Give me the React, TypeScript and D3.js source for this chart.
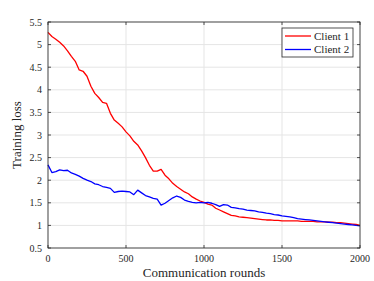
import * as d3 from 'd3';

const ROUNDS = d3.range(0, 2001, 25);

// Client 1 training loss, read every 25 rounds
const client1 = [
  5.27, 5.18, 5.12, 5.05, 4.97, 4.86, 4.74, 4.63, 4.44, 4.41,
  4.3, 4.08, 3.92, 3.83, 3.72, 3.7, 3.48, 3.33, 3.26, 3.18,
  3.07, 2.98, 2.86, 2.78, 2.65, 2.5, 2.33, 2.2, 2.2, 2.24,
  2.11, 2.03, 1.93, 1.86, 1.8, 1.74, 1.7, 1.63, 1.58, 1.54,
  1.51, 1.47, 1.45, 1.38, 1.34, 1.3, 1.26, 1.22, 1.21, 1.19,
  1.18, 1.17, 1.16, 1.15, 1.14, 1.13, 1.12, 1.12, 1.11, 1.11,
  1.1, 1.1, 1.1, 1.1, 1.1, 1.09, 1.09, 1.09, 1.09, 1.08,
  1.08, 1.08, 1.07, 1.07, 1.06, 1.06, 1.05, 1.04, 1.03, 1.02,
  1.0,
];

// Client 2 training loss
const client2 = [
  2.34, 2.17, 2.19, 2.23, 2.21, 2.22, 2.16, 2.13, 2.09, 2.04,
  2.0, 1.97, 1.92, 1.9, 1.86, 1.84, 1.82, 1.73, 1.75, 1.76,
  1.75, 1.74, 1.68, 1.78, 1.72, 1.66, 1.63, 1.6, 1.58, 1.45,
  1.49, 1.55, 1.61, 1.65, 1.62, 1.56, 1.53, 1.51, 1.5, 1.51,
  1.5, 1.51, 1.49, 1.46, 1.42, 1.46, 1.45, 1.4, 1.39, 1.37,
  1.36, 1.34, 1.33, 1.32, 1.3, 1.29, 1.27, 1.26, 1.24, 1.23,
  1.21, 1.2, 1.19, 1.17, 1.15, 1.14, 1.13, 1.12, 1.11, 1.1,
  1.09, 1.08, 1.07, 1.06, 1.05, 1.04, 1.03, 1.02, 1.01, 1.0,
  0.99,
];

const xTicks = [0, 500, 1000, 1500, 2000];
const yTicks = [0.5, 1, 1.5, 2, 2.5, 3, 3.5, 4, 4.5, 5, 5.5];

const series = [
  { label: 'Client 1', values: client1, color: '#ff0000' },
  { label: 'Client 2', values: client2, color: '#0000ff' },
];

const W = 374;
const H = 281;
const margin = { top: 22, right: 14, bottom: 33, left: 48 };
const FONT = '"Liberation Serif", "Times New Roman", serif';
const AXIS = '#262626';

export default function App() {
  const w = W - margin.left - margin.right;
  const h = H - margin.top - margin.bottom;
  const x = d3.scaleLinear().domain([0, 2000]).range([0, w]);
  const y = d3.scaleLinear().domain([0.5, 5.5]).range([h, 0]);

  const line = (vals: number[]) =>
    d3
      .line<number>()
      .x((_, i) => x(ROUNDS[i]))
      .y((d) => y(d))(vals) ?? '';

  const tick = 3;

  return (
    <svg
      width={W}
      height={H}
      style={{ position: 'absolute', left: 0, top: 0, background: '#fff' }}
      fontFamily={FONT}
    >
      <g transform={`translate(${margin.left},${margin.top})`}>
        {/* grid */}
        {xTicks.map((t) => (
          <line key={'gx' + t} x1={x(t)} x2={x(t)} y1={0} y2={h} stroke="#e5e5e5" />
        ))}
        {yTicks.map((t) => (
          <line key={'gy' + t} x1={0} x2={w} y1={y(t)} y2={y(t)} stroke="#e5e5e5" />
        ))}

        {/* lines */}
        {series.map((s) => (
          <path
            key={s.label}
            d={line(s.values)}
            fill="none"
            stroke={s.color}
            strokeWidth={1.3}
            strokeLinejoin="round"
          />
        ))}

        {/* box + inward ticks */}
        <rect x={0} y={0} width={w} height={h} fill="none" stroke={AXIS} strokeWidth={0.8} />
        {xTicks.map((t) => (
          <g key={'tx' + t} stroke={AXIS} strokeWidth={0.8}>
            <line x1={x(t)} x2={x(t)} y1={h} y2={h - tick} />
            <line x1={x(t)} x2={x(t)} y1={0} y2={tick} />
          </g>
        ))}
        {yTicks.map((t) => (
          <g key={'ty' + t} stroke={AXIS} strokeWidth={0.8}>
            <line x1={0} x2={tick} y1={y(t)} y2={y(t)} />
            <line x1={w} x2={w - tick} y1={y(t)} y2={y(t)} />
          </g>
        ))}

        {/* tick labels */}
        {xTicks.map((t) => (
          <text key={'lx' + t} x={x(t)} y={h + 14} textAnchor="middle" fontSize={10} fill={AXIS}>
            {t}
          </text>
        ))}
        {yTicks.map((t) => (
          <text
            key={'ly' + t}
            x={-6}
            y={y(t)}
            dy="0.35em"
            textAnchor="end"
            fontSize={10}
            fill={AXIS}
          >
            {t}
          </text>
        ))}

        {/* axis titles */}
        <text x={w / 2} y={h + 28.5} textAnchor="middle" fontSize={13} fill={AXIS}>
          Communication rounds
        </text>
        <text
          transform={`translate(${-27},${h / 2}) rotate(-90)`}
          textAnchor="middle"
          fontSize={13}
          fill={AXIS}
        >
          Training loss
        </text>

        {/* legend */}
        <g transform={`translate(${w - 78},6)`}>
          <rect x={0} y={0} width={71} height={29} fill="#fff" stroke={AXIS} strokeWidth={0.8} />
          {series.map((s, i) => (
            <g key={'lg' + s.label} transform={`translate(0,${8 + i * 13.5})`}>
              <line x1={3} x2={29} y1={0} y2={0} stroke={s.color} strokeWidth={1.3} />
              <text x={32} y={0} dy="0.35em" fontSize={11} fill={AXIS}>
                {s.label}
              </text>
            </g>
          ))}
        </g>
      </g>
    </svg>
  );
}
